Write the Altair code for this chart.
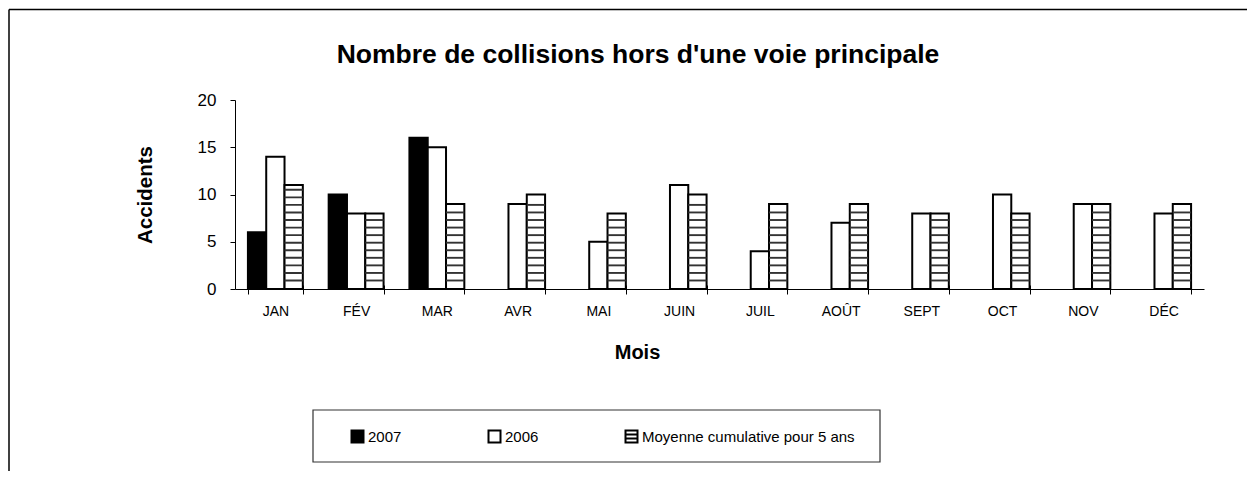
import altair as alt
import pandas as pd

months = ["JAN", "FÉV", "MAR", "AVR", "MAI", "JUIN", "JUIL", "AOÛT", "SEPT", "OCT", "NOV", "DÉC"]
series = ["2007", "2006", "Moyenne cumulative pour 5 ans"]
s2007 = [6, 10, 16, None, None, None, None, None, None, None, None, None]
s2006 = [14, 8, 15, 9, 5, 11, 4, 7, 8, 10, 9, 8]
smoy = [11, 8, 9, 10, 8, 10, 9, 9, 8, 8, 9, 9]
y_ticks = [0, 5, 10, 15, 20]

title_text = "Nombre de collisions hors d'une voie principale"

rows = []
for i, m in enumerate(months):
    for name, vals in zip(series, [s2007, s2006, smoy]):
        if vals[i] is not None:
            rows.append({"mois": m, "serie": name, "valeur": vals[i]})
df = pd.DataFrame(rows)

# horizontal hatch lines for the "Moyenne" bars (decoration derived from values)
stripe_step = 0.8
stripe_thick = 0.2
srows = []
for m, v in zip(months, smoy):
    y = stripe_step
    while y + stripe_thick < v - 0.25:
        srows.append({"mois": m, "serie": series[2], "lo": y, "hi": y + stripe_thick})
        y += stripe_step
sdf = pd.DataFrame(srows)

FONT = "Liberation Sans"

x_scale = alt.Scale(domain=months, paddingInner=0.32, paddingOuter=0.16)
x_axis = alt.Axis(
    orient="bottom",
    title="Mois", labelAngle=0, labelFontSize=14, labelFont=FONT, labelColor="black",
    titleFont=FONT, titleFontSize=20, titleFontWeight="bold", titleColor="black",
    titleX=402, titleY=63, titleBaseline="middle", titleAlign="center",
    tickBand="extent", domainColor="black", tickColor="black", tickSize=5,
    labelPadding=10, grid=False,
)
# second x axis (ticks only) shifted upward so the category ticks cross the axis line
x_axis_up = alt.Axis(
    orient="bottom",
    title="", labels=False, domain=False, tickBand="extent", tickColor="black",
    tickSize=4, offset=-4, grid=False,
)
y_scale = alt.Scale(domain=[0, 20], nice=False)
y_axis = alt.Axis(
    values=y_ticks, title="Accidents", labelFontSize=17, labelFont=FONT, labelColor="black",
    titleFont=FONT, titleFontSize=20.5, titleFontWeight="bold", titleColor="black",
    titleX=-90, titleY=94.5, titleAngle=270, titleBaseline="middle", titleAlign="center",
    domainColor="black", tickColor="black", tickSize=5, labelPadding=14, grid=False,
)
xo = alt.XOffset("serie:N", sort=series, scale=alt.Scale(domain=series, paddingInner=0, paddingOuter=0))

hatch_path = "M-1,-1H1V1H-1Z M-1,-0.33H1 M-1,0.33H1"
legend = alt.Legend(
    title=None, orient="none", legendX=115, legendY=329, direction="horizontal",
    symbolType={"expr": "datum.value === 'Moyenne cumulative pour 5 ans' ? '" + hatch_path + "' : 'square'"},
    symbolSize=144, symbolStrokeColor="black", symbolStrokeWidth=2,
    labelFontSize=15, labelFont=FONT, labelColor="black", labelOffset=3,
    columnPadding=82, gridAlign="none", labelLimit=400,
)

bars = alt.Chart(df).mark_bar(stroke="black", strokeWidth=2).encode(
    x=alt.X("mois:N", sort=months, scale=x_scale, axis=x_axis),
    xOffset=xo,
    y=alt.Y("valeur:Q", scale=y_scale, axis=y_axis),
    fill=alt.Fill("serie:N", scale=alt.Scale(domain=series, range=["black", "white", "white"]), legend=legend),
)

stripes = alt.Chart(sdf).mark_bar(fill="#333333").encode(
    x=alt.X("mois:N", sort=months, scale=x_scale, axis=x_axis_up),
    xOffset=xo,
    y=alt.Y("lo:Q", scale=y_scale, axis=y_axis),
    y2="hi:Q",
)

one = pd.DataFrame({"a": [0]})
frame_left = alt.Chart(one).mark_rule(stroke="black", strokeWidth=1.5).encode(
    x=alt.value(-226), y=alt.value(-90.5), y2=alt.value(3000)
)
frame_top = alt.Chart(one).mark_rule(stroke="black", strokeWidth=1.5).encode(
    x=alt.value(-226), x2=alt.value(3000), y=alt.value(-90.5)
)
legend_box = alt.Chart(one).mark_rect(filled=False, stroke="#333333", strokeWidth=1.2).encode(
    x=alt.value(78), x2=alt.value(645), y=alt.value(310), y2=alt.value(362)
)
title = alt.Chart(one).mark_text(
    text=title_text, font=FONT, fontSize=26.5, fontWeight="bold", align="center", baseline="middle", color="black"
).encode(x=alt.value(403), y=alt.value(-45))

chart = alt.layer(frame_left, frame_top, bars, stripes, legend_box, title).resolve_axis(
    x="independent"
).properties(
    width=969, height=189,
    padding={"left": 227, "top": 92, "right": 43, "bottom": 182},
    autosize=alt.AutoSizeParams(type="none"),
).configure(font=FONT).configure_view(stroke="transparent", strokeWidth=0)

chart.save("out.html", embed_options={"renderer": "svg", "actions": False})
